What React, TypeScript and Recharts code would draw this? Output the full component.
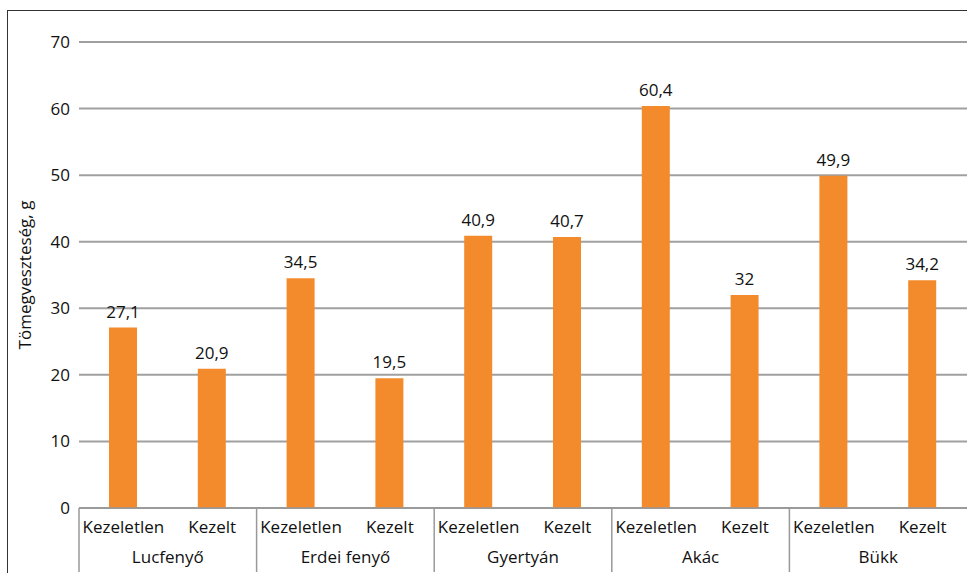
import * as React from 'react';
import { BarChart, Bar, XAxis, YAxis, CartesianGrid, LabelList } from 'recharts';

const groups = ['Lucfenyő', 'Erdei fenyő', 'Gyertyán', 'Akác', 'Bükk'];
const treatments = ['Kezeletlen', 'Kezelt'];
const values = [27.1, 20.9, 34.5, 19.5, 40.9, 40.7, 60.4, 32, 49.9, 34.2];
const yTicks = [0, 10, 20, 30, 40, 50, 60, 70];

const data = values.map((v, i) => ({
    sub: treatments[i % 2],
    group: groups[Math.floor(i / 2)],
    value: v,
}));

const FONT = '"Open Sans", "Noto Sans", sans-serif';
const BAND = 88.8;
const FS = 17;

const CatTick = (props: any) => {
    const { x, y, payload, index } = props;
    const first = index % 2 === 0;
    return (
        <g>
            <text x={x} y={y + 25} textAnchor="middle" fontSize={FS} fill="#111" fontFamily={FONT}>
                {payload.value}
            </text>
            {first && (
                <>
                    <line x1={x - BAND / 2} x2={x - BAND / 2} y1={y} y2={y + 64} stroke="#999" strokeWidth={1.5} />
                    <text x={x + BAND / 2} y={y + 55} textAnchor="middle" fontSize={FS} fill="#111" fontFamily={FONT}>
                        {data[index].group}
                    </text>
                </>
            )}
        </g>
    );
};

export default function App() {
    return (
        <div style={{ position: 'absolute', left: 0, top: 0, width: 967, height: 573, overflow: 'hidden', background: '#fff' }}>
            <div style={{ position: 'absolute', left: 7, top: 10, width: 1000, height: 600, border: '1.5px solid #333', boxSizing: 'border-box' }} />
            <div style={{ position: 'absolute', left: 0, top: 0 }}>
                <BarChart width={967} height={573} data={data} margin={{ top: 42, right: 0, bottom: 0, left: 0 }} barSize={28}>
                    <CartesianGrid vertical={false} stroke="#a0a0a0" strokeWidth={2} />
                    <XAxis
                        dataKey="sub"
                        height={65}
                        tickLine={false}
                        tickSize={0}
                        tickMargin={0}
                        interval={0}
                        axisLine={{ stroke: '#999', strokeWidth: 1.5 }}
                        tick={<CatTick />}
                    />
                    <YAxis
                        width={79}
                        domain={[0, 70]}
                        ticks={yTicks}
                        axisLine={false}
                        tickLine={false}
                        tickSize={0}
                        tickMargin={9}
                        tick={{ fontSize: FS, fill: '#111', fontFamily: FONT }}
                        label={{ value: 'Tömegveszteség, g', angle: -90, position: 'insideLeft', offset: 25, style: { fontSize: FS, fill: '#111', fontFamily: FONT, textAnchor: 'middle' } }}
                    />
                    <Bar dataKey="value" fill="#F38B2C" isAnimationActive={false}>
                        <LabelList
                            dataKey="value"
                            position="top"
                            offset={10}
                            formatter={(v: any) => String(v).replace('.', ',')}
                            style={{ fontSize: FS, fill: '#111', fontFamily: FONT }}
                        />
                    </Bar>
                </BarChart>
            </div>
        </div>
    );
}
